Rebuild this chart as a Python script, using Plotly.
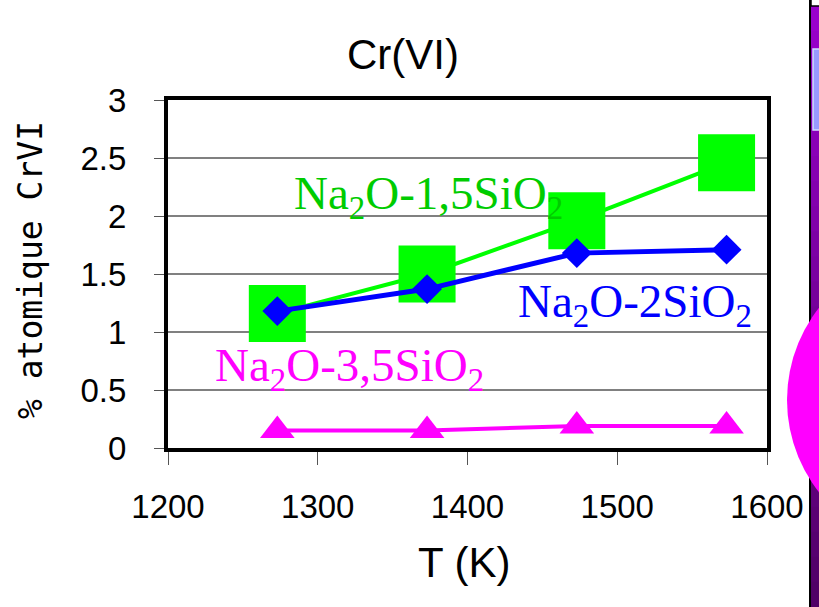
import plotly.graph_objects as go

# ---- data ----
T = [1273, 1373, 1473, 1573]
na2o_15sio2 = [1.16, 1.50, 1.96, 2.46]
na2o_2sio2 = [1.18, 1.37, 1.68, 1.71]
na2o_35sio2 = [0.15, 0.15, 0.19, 0.19]

x_ticks = [1200, 1300, 1400, 1500, 1600]
y_ticks = [0, 0.5, 1, 1.5, 2, 2.5, 3]
y_ticktext = ["0", "0.5", "1", "1.5", "2", "2.5", "3"]

W, H = 819, 607
L, R, TOP, BOT = 168, 767, 100, 448

def px(X):
    return (X - L) / (R - L)

def py(Y):
    return (BOT - Y) / (BOT - TOP)

SANS = "Liberation Sans, Arial, Helvetica, sans-serif"
SERIF = "Liberation Serif, Times New Roman, serif"

fig = go.Figure()
fig.add_trace(go.Scatter(
    x=T, y=na2o_15sio2, mode="lines+markers", name="Na2O-1,5SiO2",
    line=dict(color="#00FF00", width=4),
    marker=dict(symbol="square", size=57, color="#00FF00"),
    cliponaxis=False, hoverinfo="skip",
))
fig.add_trace(go.Scatter(
    x=T, y=na2o_2sio2, mode="lines+markers", name="Na2O-2SiO2",
    line=dict(color="#0000FF", width=5),
    marker=dict(symbol="diamond", size=23, color="#0000FF"),
    cliponaxis=False, hoverinfo="skip",
))
fig.add_trace(go.Scatter(
    x=T, y=na2o_35sio2, mode="lines+markers", name="Na2O-3,5SiO2",
    line=dict(color="#FF00FF", width=4),
    marker=dict(symbol="triangle-up", size=30, color="#FF00FF"),
    cliponaxis=False, hoverinfo="skip",
))

labels = [
    ("Na<sub>2</sub>O-1,5SiO<sub>2</sub>", 292, 196, "#00CC00"),
    ("Na<sub>2</sub>O-2SiO<sub>2</sub>", 516, 304, "#0000FF"),
    ("Na<sub>2</sub>O-3,5SiO<sub>2</sub>", 213, 368, "#FF00FF"),
]
ann_list = []
for text, X, Y, col in labels:
    ann_list.append(dict(
        text=text, x=px(X), y=py(Y), xref="paper", yref="paper",
        xanchor="left", yanchor="middle", showarrow=False,
        font=dict(family=SERIF, size=47, color=col),
    ))

# axis titles
ann_list.append(dict(
    text="T (K)", x=px(464), y=py(562), xref="paper", yref="paper",
    xanchor="center", yanchor="middle", showarrow=False,
    font=dict(family=SANS, size=42, color="black"),
))
ann_list.append(dict(
    text="% atomique CrVI", x=px(30), y=py(270), xref="paper", yref="paper",
    xanchor="center", yanchor="middle", showarrow=False, textangle=-90,
    font=dict(family="DejaVu Sans Mono, monospace", size=33, color="black"),
))
# chart title
ann_list.append(dict(
    text="Cr(VI)", x=px(403), y=py(54), xref="paper", yref="paper",
    xanchor="center", yanchor="middle", showarrow=False,
    font=dict(family=SANS, size=42, color="black"),
))

# ---- right-hand strip (slide background fragment) ----
shapes = []
top_c = (0x99, 0x00, 0xCC)
bot_c = (0x50, 0x00, 0x66)
n = 24
for i in range(n):
    t = i / (n - 1)
    c = tuple(int(round(top_c[k] + (bot_c[k] - top_c[k]) * t)) for k in range(3))
    y0 = 6 + (H - 6) * i / n
    y1 = 6 + (H - 6) * (i + 1) / n + 1
    shapes.append(dict(type="rect", xref="paper", yref="paper",
                       x0=px(811), x1=px(830), y0=py(y1), y1=py(y0),
                       line=dict(width=0), fillcolor="rgb(%d,%d,%d)" % c, layer="above"))
shapes.append(dict(type="rect", xref="paper", yref="paper",
                   x0=px(811), x1=px(830), y0=py(6), y1=py(-2),
                   line=dict(width=1.5, color="black"), fillcolor="white", layer="above"))
shapes.append(dict(type="rect", xref="paper", yref="paper",
                   x0=px(813), x1=px(830), y0=py(130), y1=py(49),
                   line=dict(width=1.5, color="#D0DDFF"), fillcolor="#9999FF", layer="above"))
shapes.append(dict(type="line", xref="paper", yref="paper",
                   x0=px(810), x1=px(810), y0=py(-2), y1=py(610),
                   line=dict(width=2, color="black"), layer="above"))
shapes.append(dict(type="circle", xref="paper", yref="paper",
                   x0=px(787), x1=px(1085), y0=py(549), y1=py(251),
                   line=dict(width=0), fillcolor="#FF00FF", layer="above"))

fig.update_layout(
    width=W, height=H,
    margin=dict(l=L, r=W - R, t=TOP, b=H - BOT, pad=0),
    paper_bgcolor="white", plot_bgcolor="white",
    showlegend=False,
    annotations=ann_list,
    shapes=shapes,
    font=dict(family=SANS, color="black"),
    hovermode=False,
)
fig.update_xaxes(
    range=[1200, 1600], tickvals=x_ticks, ticktext=[str(v) for v in x_ticks],
    showgrid=False, zeroline=False,
    showline=True, mirror=True, linecolor="black", linewidth=4,
    ticks="outside", ticklen=13, tickwidth=1, tickcolor="#555555",
    tickfont=dict(family=SANS, size=33, color="black"),
    ticklabelstandoff=13,
)
fig.update_yaxes(
    range=[0, 3], tickvals=y_ticks, ticktext=y_ticktext,
    showgrid=True, gridcolor="#808080", gridwidth=1.5, zeroline=False,
    showline=True, mirror=True, linecolor="black", linewidth=4,
    ticks="outside", ticklen=10, tickwidth=1, tickcolor="#555555",
    tickfont=dict(family=SANS, size=33, color="black"),
    ticklabelstandoff=21,
)

fig.write_html(
    "out.html",
    config={"displayModeBar": False},
    post_script="document.body.style.margin='0';document.body.style.overflow='hidden';",
)
